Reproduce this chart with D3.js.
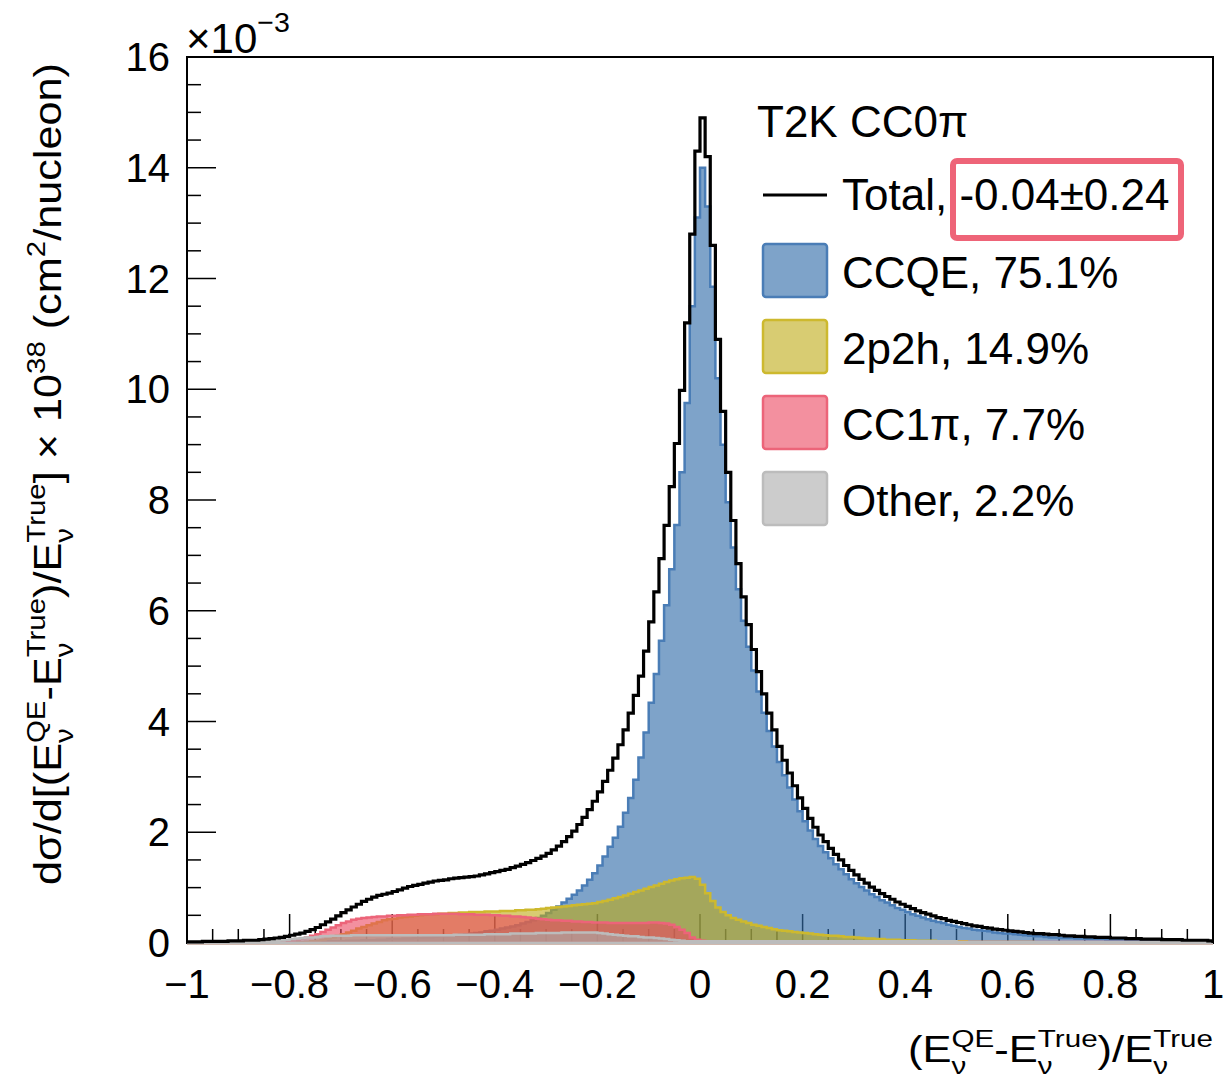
<!DOCTYPE html>
<html>
<head>
<meta charset="utf-8">
<script src="https://cdn.jsdelivr.net/npm/d3@7"></script>
<style>
  body { margin: 0; background: #fff; }
  svg text { font-family: "Liberation Sans", Arial, Helvetica, sans-serif; fill: #000; white-space: pre; }
</style>
</head>
<body>
<svg width="1227" height="1078"></svg>
<script>
// bin contents, 200 bins of width 0.01 from -1 to 1 (units of 1e-3)
const total = [
  0.02,0.02,0.02,0.03,0.03,0.03,0.03,0.03,0.04,0.04,
  0.04,0.05,0.05,0.05,0.06,0.07,0.08,0.09,0.10,0.12,
  0.14,0.16,0.18,0.21,0.24,0.28,0.33,0.38,0.43,0.49,
  0.55,0.60,0.65,0.70,0.75,0.79,0.83,0.86,0.88,0.90,
  0.93,0.96,0.99,1.02,1.04,1.06,1.08,1.10,1.12,1.13,
  1.14,1.16,1.17,1.18,1.19,1.20,1.21,1.23,1.25,1.27,
  1.29,1.31,1.33,1.36,1.39,1.42,1.45,1.49,1.53,1.57,
  1.62,1.68,1.75,1.83,1.92,2.02,2.14,2.27,2.41,2.56,
  2.73,2.92,3.12,3.34,3.58,3.85,4.15,4.47,4.82,5.27,
  5.80,6.34,6.94,7.54,8.24,9.02,9.98,11.2,12.8,14.3,
  14.9,14.2,12.6,10.9,9.60,8.50,7.63,6.85,6.25,5.75,
  5.30,4.90,4.50,4.15,3.85,3.55,3.30,3.07,2.84,2.62,
  2.43,2.25,2.09,1.95,1.83,1.71,1.60,1.50,1.40,1.31,
  1.23,1.15,1.08,1.01,0.95,0.89,0.84,0.79,0.74,0.70,
  0.66,0.62,0.58,0.55,0.52,0.49,0.46,0.44,0.41,0.39,
  0.37,0.35,0.33,0.31,0.30,0.28,0.27,0.25,0.24,0.23,
  0.22,0.21,0.20,0.19,0.18,0.17,0.17,0.16,0.15,0.15,
  0.14,0.13,0.13,0.12,0.12,0.11,0.11,0.10,0.10,0.10,
  0.09,0.09,0.09,0.08,0.08,0.08,0.07,0.07,0.07,0.07,
  0.06,0.06,0.06,0.06,0.05,0.05,0.05,0.05,0.05,0.04
];
const ccqe = [
  0.00,0.00,0.00,0.00,0.00,0.01,0.01,0.01,0.01,0.01,
  0.01,0.01,0.01,0.01,0.01,0.01,0.01,0.01,0.01,0.01,
  0.01,0.01,0.01,0.02,0.02,0.02,0.02,0.03,0.03,0.03,
  0.03,0.04,0.04,0.04,0.05,0.05,0.05,0.06,0.06,0.07,
  0.07,0.07,0.08,0.08,0.09,0.09,0.10,0.10,0.11,0.12,
  0.12,0.13,0.14,0.15,0.16,0.17,0.18,0.19,0.21,0.22,
  0.24,0.26,0.28,0.30,0.32,0.35,0.38,0.41,0.45,0.49,
  0.54,0.60,0.66,0.73,0.80,0.87,0.95,1.04,1.14,1.26,
  1.40,1.56,1.74,1.90,2.10,2.35,2.62,2.95,3.35,3.80,
  4.34,4.86,5.46,6.10,6.75,7.55,8.50,9.75,11.5,13.1,
  14.0,13.3,11.85,10.2,9.00,7.96,7.14,6.39,5.82,5.35,
  4.92,4.54,4.16,3.83,3.55,3.27,3.03,2.81,2.59,2.38,
  2.20,2.03,1.88,1.75,1.64,1.53,1.42,1.33,1.24,1.15,
  1.08,1.01,0.95,0.88,0.83,0.77,0.73,0.68,0.63,0.60,
  0.56,0.52,0.49,0.46,0.43,0.40,0.38,0.36,0.33,0.31,
  0.29,0.27,0.26,0.24,0.23,0.22,0.21,0.19,0.18,0.17,
  0.17,0.16,0.15,0.14,0.13,0.12,0.12,0.11,0.10,0.10,
  0.09,0.09,0.09,0.08,0.08,0.07,0.07,0.07,0.07,0.06,
  0.06,0.06,0.06,0.05,0.05,0.05,0.05,0.04,0.04,0.04,
  0.04,0.04,0.04,0.03,0.03,0.03,0.03,0.03,0.02,0.02
];
const np2h = [
  0,0,0,0,0,0,0,0,0,0,
  0,0,0,0,0,0,0,0,0,0,
  0.00,0.01,0.01,0.02,0.03,0.04,0.06,0.08,0.10,0.13,
  0.16,0.19,0.22,0.26,0.29,0.32,0.35,0.38,0.41,0.43,
  0.44,0.46,0.47,0.48,0.49,0.50,0.51,0.52,0.52,0.53,
  0.53,0.54,0.54,0.55,0.55,0.56,0.56,0.56,0.57,0.57,
  0.57,0.58,0.58,0.58,0.59,0.59,0.60,0.60,0.61,0.62,
  0.63,0.64,0.65,0.66,0.67,0.68,0.69,0.70,0.71,0.72,
  0.74,0.76,0.78,0.81,0.83,0.86,0.89,0.92,0.95,0.98,
  1.01,1.04,1.07,1.10,1.13,1.15,1.17,1.18,1.19,1.16,
  1.05,0.90,0.76,0.64,0.56,0.50,0.45,0.42,0.39,0.36,
  0.33,0.31,0.29,0.27,0.25,0.23,0.22,0.21,0.20,0.19,
  0.18,0.17,0.16,0.15,0.14,0.13,0.13,0.12,0.11,0.11,
  0.10,0.09,0.08,0.08,0.07,0.07,0.06,0.06,0.06,0.05,
  0.05,0.05,0.04,0.04,0.04,0.04,0.03,0.03,0.03,0.03,
  0.03,0.03,0.02,0.02,0.02,0.02,0.02,0.02,0.02,0.02,
  0.02,0.02,0.02,0.02,0.02,0.01,0.01,0.01,0.01,0.01,
  0.01,0.01,0.01,0.01,0.01,0.01,0.01,0.01,0.01,0.01,
  0.01,0.01,0.01,0.01,0.01,0.01,0.01,0.01,0.01,0.01,
  0.01,0.01,0.01,0.01,0.01,0.01,0.01,0.01,0.01,0.01
];
const cc1pi = [
  0,0,0,0,0,0,0,0,0,0,
  0,0,0,0,0,0.01,0.01,0.02,0.02,0.03,
  0.04,0.06,0.08,0.10,0.13,0.16,0.20,0.24,0.28,0.32,
  0.36,0.39,0.42,0.44,0.45,0.46,0.47,0.48,0.48,0.49,
  0.49,0.50,0.50,0.51,0.51,0.52,0.52,0.52,0.53,0.53,
  0.53,0.53,0.53,0.52,0.52,0.52,0.51,0.51,0.51,0.50,
  0.50,0.49,0.49,0.48,0.48,0.47,0.46,0.45,0.44,0.43,
  0.42,0.41,0.41,0.40,0.40,0.39,0.39,0.38,0.38,0.37,
  0.37,0.37,0.36,0.36,0.36,0.36,0.36,0.36,0.36,0.36,
  0.37,0.37,0.36,0.35,0.33,0.29,0.24,0.18,0.10,0.06,
  0.04,0.03,0.02,0.02,0.02,0.02,0.02,0.02,0.02,0.02,
  0.02,0.02,0.02,0.02,0.02,0.02,0.02,0.02,0.02,0.02,
  0.02,0.02,0.02,0.02,0.02,0.02,0.02,0.02,0.02,0.02,
  0.02,0.02,0.02,0.02,0.02,0.02,0.02,0.02,0.02,0.02,
  0.02,0.02,0.02,0.02,0.02,0.02,0.02,0.02,0.02,0.02,
  0.02,0.02,0.02,0.02,0.02,0.02,0.02,0.02,0.02,0.02,
  0.02,0.02,0.02,0.02,0.02,0.02,0.02,0.02,0.02,0.02,
  0.02,0.02,0.02,0.02,0.02,0.02,0.02,0.02,0.02,0.02,
  0.02,0.02,0.02,0.02,0.02,0.02,0.02,0.02,0.02,0.02,
  0.02,0.02,0.02,0.02,0.02,0.02,0.02,0.02,0.02,0.02
];
const other = [
  0.00,0.00,0.00,0.01,0.01,0.01,0.01,0.01,0.01,0.01,
  0.01,0.01,0.02,0.02,0.02,0.03,0.03,0.04,0.05,0.06,
  0.07,0.08,0.09,0.10,0.10,0.11,0.12,0.12,0.13,0.13,
  0.13,0.13,0.14,0.14,0.14,0.14,0.14,0.14,0.14,0.14,
  0.14,0.14,0.14,0.14,0.14,0.14,0.14,0.14,0.14,0.14,
  0.14,0.14,0.15,0.15,0.15,0.15,0.15,0.15,0.16,0.16,
  0.16,0.16,0.16,0.17,0.17,0.17,0.17,0.17,0.18,0.18,
  0.18,0.18,0.18,0.19,0.19,0.19,0.19,0.19,0.19,0.19,
  0.18,0.17,0.16,0.15,0.14,0.13,0.12,0.12,0.11,0.10,
  0.10,0.09,0.08,0.07,0.06,0.05,0.04,0.03,0.03,0.03,
  0.03,0.03,0.03,0.03,0.03,0.03,0.03,0.03,0.03,0.03,
  0.03,0.03,0.03,0.03,0.03,0.03,0.03,0.03,0.03,0.03,
  0.03,0.03,0.03,0.03,0.03,0.03,0.03,0.03,0.03,0.03,
  0.03,0.03,0.03,0.03,0.03,0.03,0.03,0.03,0.03,0.03,
  0.03,0.03,0.03,0.03,0.03,0.03,0.03,0.03,0.03,0.03,
  0.02,0.02,0.02,0.02,0.02,0.02,0.02,0.02,0.02,0.02,
  0.02,0.02,0.02,0.02,0.02,0.02,0.02,0.02,0.02,0.02,
  0.02,0.02,0.02,0.02,0.02,0.02,0.02,0.02,0.02,0.02,
  0.02,0.02,0.02,0.02,0.02,0.02,0.02,0.02,0.02,0.02,
  0.02,0.02,0.02,0.02,0.02,0.02,0.02,0.02,0.02,0.02
];

const xTicks = [-1, -0.8, -0.6, -0.4, -0.2, 0, 0.2, 0.4, 0.6, 0.8, 1];
const yTicks = [0, 2, 4, 6, 8, 10, 12, 14, 16];
const legendLabels = ["CCQE, 75.1%", "2p2h, 14.9%", "CC1\u03c0, 7.7%", "Other, 2.2%"];

const binEdges = d3.range(201).map(i => -1 + i * 0.01);

// Frame geometry
const frameL = 187, frameR = 1213, frameT = 57, frameB = 943;

const x = d3.scaleLinear().domain([-1, 1]).range([frameL, frameR]);
const y = d3.scaleLinear().domain([0, 16]).range([frameB, frameT]);

const svg = d3.select("svg");
svg.append("rect").attr("width", 1227).attr("height", 1078).attr("fill", "#fff");

function fmt(v) {
    const s = d3.format("~g")(Math.abs(v));
    return v < 0 ? "\u2212" + s : s;
}

// text with super/subscripts, measured piece by piece
function richText(parent, segs, size) {
    const outer = parent.append("g");
    const g = outer.append("g");
    let cx = 0;
    segs.forEach(s => {
        if (typeof s === "string") {
            const t = g.append("text").attr("x", cx).attr("font-size", size).text(s);
            cx += t.node().getComputedTextLength();
        } else {
            let w = 0;
            if (s.sup) {
                const t = g.append("text").attr("x", cx).attr("y", -size * (s.up || 0.42))
                    .attr("font-size", size * 0.68).text(s.sup);
                w = Math.max(w, t.node().getComputedTextLength());
            }
            if (s.sub) {
                const t = g.append("text").attr("x", cx).attr("y", size * 0.32)
                    .attr("font-size", size * 0.68).text(s.sub);
                w = Math.max(w, t.node().getComputedTextLength());
            }
            cx += w;
        }
    });
    return { g: outer, inner: g, width: cx };
}

// stretch a rich text along its baseline to a wanted length
function fitWidth(rt, len) {
    rt.inner.attr("transform", `scale(${len / rt.width},1)`);
}

// Ticks (drawn under the translucent fills)
const ticks = svg.append("g").attr("stroke", "#000").attr("stroke-width", 1.5);
d3.range(-1, 1.0001, 0.05).forEach(v => {
    const major = Math.abs(Math.round(v * 5) - v * 5) < 1e-6;
    ticks.append("line")
        .attr("x1", x(v)).attr("x2", x(v))
        .attr("y1", frameB).attr("y2", frameB - (major ? 29 : 14));
});
d3.range(0, 16.0001, 0.5).forEach(v => {
    const major = Math.abs(v % 2) < 1e-6;
    ticks.append("line")
        .attr("x1", frameL).attr("x2", frameL + (major ? 29 : 14))
        .attr("y1", y(v)).attr("y2", y(v));
});

// Frame
svg.append("rect")
    .attr("x", frameL).attr("y", frameT)
    .attr("width", frameR - frameL).attr("height", frameB - frameT)
    .attr("fill", "none").attr("stroke", "#000").attr("stroke-width", 2);

// Tick labels
svg.append("g").selectAll("text")
    .data(xTicks).enter().append("text")
    .attr("x", d => x(d)).attr("y", 998)
    .attr("text-anchor", "middle").attr("font-size", 40)
    .text(d => fmt(d));
svg.append("g").selectAll("text")
    .data(yTicks).enter().append("text")
    .attr("x", 170).attr("y", d => y(d) + 14)
    .attr("text-anchor", "end").attr("font-size", 40)
    .text(d => fmt(d));

// Histograms
svg.append("clipPath").attr("id", "plot")
    .append("rect").attr("x", frameL).attr("y", frameT - 2)
    .attr("width", frameR - frameL).attr("height", frameB - frameT + 4);

function stepPoints(vals) {
    const pts = [[-1, 0]];
    vals.forEach((v, i) => pts.push([binEdges[i], v]));
    pts.push([1, vals[vals.length - 1]]);
    pts.push([1, 0]);
    return pts;
}
const step = d3.line().curve(d3.curveStepAfter).x(d => x(d[0])).y(d => y(d[1]));

const series = [
    { vals: ccqe, fill: "rgb(50,110,170)", op: 0.63, stroke: "#4a7db6" },
    { vals: np2h, fill: "rgb(190,170,20)", op: 0.6, stroke: "#cdb92e" },
    { vals: cc1pi, fill: "rgb(235,70,95)", op: 0.6, stroke: "#ec6479" },
    { vals: other, fill: "rgb(170,170,170)", op: 0.6, stroke: "#bcbcbc" }
];

const plot = svg.append("g").attr("clip-path", "url(#plot)");
series.forEach(s => {
    plot.append("path")
        .attr("d", step(stepPoints(s.vals)) + "Z")
        .attr("fill", s.fill).attr("fill-opacity", s.op)
        .attr("stroke", s.stroke).attr("stroke-width", 2.5)
        .attr("stroke-linejoin", "miter");
});
plot.append("path")
    .attr("d", step(stepPoints(total)))
    .attr("fill", "none").attr("stroke", "#000").attr("stroke-width", 3.2);

// x10^-3 multiplier
const mult = richText(svg, ["\u00d710", { sup: "\u22123", up: 0.5 }], 42);
mult.g.attr("transform", "translate(186,53)");

// Axis titles
const xt = richText(svg, ["(E", { sup: "QE", sub: "\u03bd" }, "-E", { sup: "True", sub: "\u03bd" },
    ")/E", { sup: "True", sub: "\u03bd" }], 36);
fitWidth(xt, 305);
xt.g.attr("transform", "translate(908,1062)");

const yt = richText(svg, ["d\u03c3/d[(E", { sup: "QE", sub: "\u03bd" }, "-E", { sup: "True", sub: "\u03bd" },
    ")/E", { sup: "True", sub: "\u03bd" }, "] \u00d7 10", { sup: "38" }, " (cm", { sup: "2" }, "/nucleon)"], 38);
fitWidth(yt, 822);
yt.g.attr("transform", "translate(61,885) rotate(-90)");

// Legend
const leg = svg.append("g");
leg.append("text").attr("x", 757).attr("y", 137).attr("font-size", 44).text("T2K CC0\u03c0");
leg.append("line").attr("x1", 763).attr("x2", 827).attr("y1", 195).attr("y2", 195)
    .attr("stroke", "#000").attr("stroke-width", 3);
leg.append("text").attr("x", 842).attr("y", 210).attr("font-size", 44)
    .attr("xml:space", "preserve").text("Total, -0.04\u00b10.24");
leg.append("rect").attr("x", 953).attr("y", 161).attr("width", 228).attr("height", 77)
    .attr("rx", 4).attr("fill", "none").attr("stroke", "#ee6478").attr("stroke-width", 6);

legendLabels.forEach((lab, i) => {
    const s = series[i];
    leg.append("rect")
        .attr("x", 763).attr("y", 244 + i * 76)
        .attr("width", 64).attr("height", 53).attr("rx", 3)
        .attr("fill", s.fill).attr("fill-opacity", s.op)
        .attr("stroke", s.stroke).attr("stroke-width", 2.5);
    leg.append("text").attr("x", 842).attr("y", 288 + i * 76)
        .attr("font-size", 44).text(lab);
});
</script>
</body>
</html>
